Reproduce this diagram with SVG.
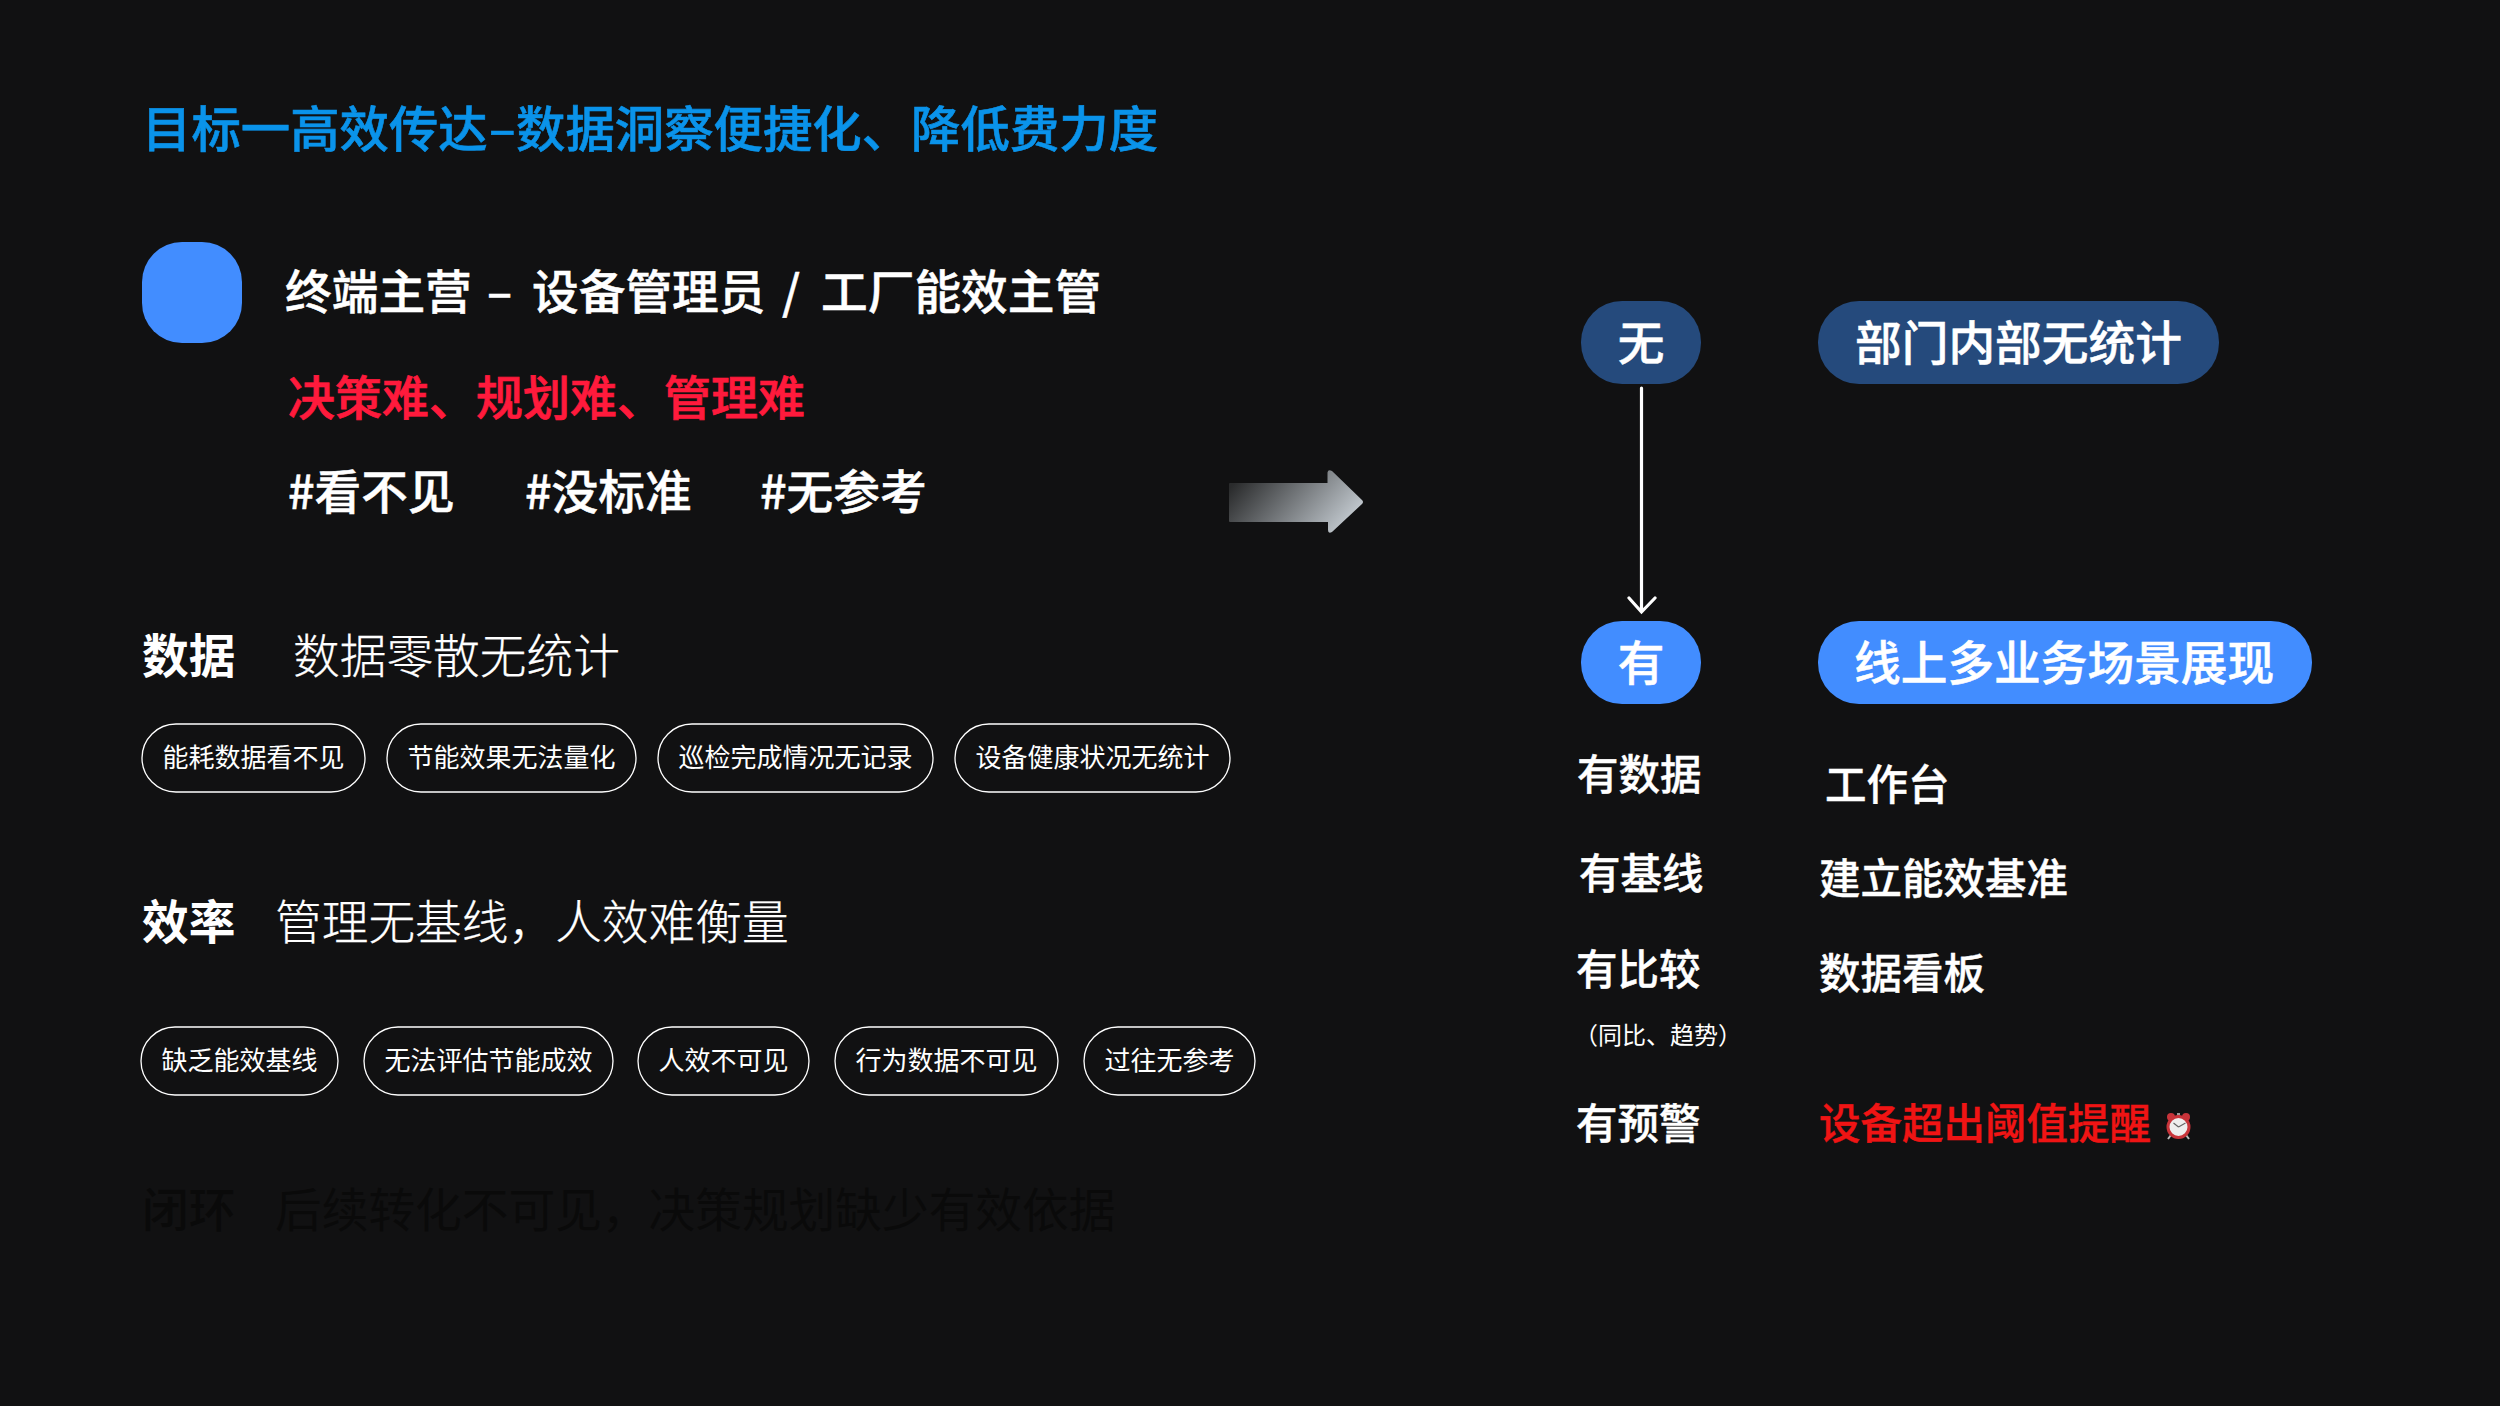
<svg xmlns="http://www.w3.org/2000/svg" width="2500" height="1406" viewBox="0 0 2500 1406">
<style>
text{font-family:"Noto Sans CJK SC","Noto Sans",sans-serif;fill:#fff}
.m{font-weight:500}.b{font-weight:700}.r{font-weight:400}.l{font-weight:300}
.s47{font-size:46.700px}.s42{font-size:41.500px;font-weight:500;stroke:#fff;stroke-width:.4px}
.w{stroke:#fff;stroke-width:.5px}
.t{stroke:#fff;stroke-width:.25px}
.pill{fill:none;stroke:#fff;stroke-width:1.300}
.pt{font-size:26px;text-anchor:middle}
.c{text-anchor:middle}
</style>
<defs>
<linearGradient id="ag" x1="0" x2="1" y1="0.300" y2="0.700"><stop offset="0" stop-color="#2a2b2c"/><stop offset="1" stop-color="#c8cfd5"/></linearGradient>
</defs>
<rect width="2500" height="1406" fill="#111112"/>
<g id="title"><text x="142" y="147" font-size="49.400" class="m" style="fill:#0a93ea;stroke:#0a93ea;stroke-width:.6px">目标一高效传达<tspan x="489">–</tspan><tspan x="516">数据洞察便捷化、降低费力度</tspan></text></g>
<g id="persona"><rect x="142" y="242" width="100" height="101" rx="40" fill="#428dff"/>
<text x="285" y="309" class="s47 m w">终端主营<tspan x="487">–</tspan><tspan x="532">设备管理员</tspan><tspan x="782">/</tspan><tspan x="821">工厂能效主管</tspan></text>
<text x="288" y="415" font-size="47" class="m" style="fill:#ff1a3c;stroke:#ff1a3c;stroke-width:.7px">决策难、规划难、管理难</text>
<text x="288" y="509" class="s47 m w">#看不见</text><text x="525" y="509" class="s47 m w">#没标准</text><text x="760" y="509" class="s47 m w">#无参考</text></g>
<g id="data-row"><text x="142" y="673" class="s47 b">数据</text><text x="293" y="673" class="s47 l t">数据零散无统计</text></g>
<g id="data-pills">
<rect class="pill" x="142" y="724" width="223" height="68" rx="34"/><text class="pt" x="253.500" y="767">能耗数据看不见</text>
<rect class="pill" x="387" y="724" width="249" height="68" rx="34"/><text class="pt" x="511.500" y="767">节能效果无法量化</text>
<rect class="pill" x="658" y="724" width="275" height="68" rx="34"/><text class="pt" x="795.500" y="767">巡检完成情况无记录</text>
<rect class="pill" x="955" y="724" width="275" height="68" rx="34"/><text class="pt" x="1092.500" y="767">设备健康状况无统计</text>
</g>
<g id="efficiency-row"><text x="142" y="939" class="s47 b">效率</text><text x="275" y="939" class="s47 l t">管理无基线，人效难衡量</text></g>
<g id="efficiency-pills">
<rect class="pill" x="141" y="1027" width="197" height="68" rx="34"/><text class="pt" x="239.500" y="1070">缺乏能效基线</text>
<rect class="pill" x="364" y="1027" width="249" height="68" rx="34"/><text class="pt" x="488.500" y="1070">无法评估节能成效</text>
<rect class="pill" x="638" y="1027" width="171" height="68" rx="34"/><text class="pt" x="723.500" y="1070">人效不可见</text>
<rect class="pill" x="835" y="1027" width="223" height="68" rx="34"/><text class="pt" x="946.500" y="1070">行为数据不可见</text>
<rect class="pill" x="1084" y="1027" width="171" height="68" rx="34"/><text class="pt" x="1169.500" y="1070">过往无参考</text>
</g>
<g id="loop-row"><text x="142" y="1227" class="s47 m" style="fill:#0a0a0a">闭环</text><text x="275" y="1227" class="s47 r" style="fill:#0a0a0a">后续转化不可见，决策规划缺少有效依据</text></g>
<g id="big-arrow"><path d="M1230 483H1327.500V472.500Q1328 469 1332 471L1362 500Q1364 502 1362 504L1332 532Q1328 534 1328 530V522H1230Q1229 522 1229 521V484Q1229 483 1230 483Z" fill="url(#ag)"/></g>
<g id="connectors"><path d="M1641.500 388V611M1629 598L1641.500 612L1655 598" fill="none" stroke="#fff" stroke-width="3.200" stroke-linecap="round"/></g>
<g id="node-none"><rect x="1581" y="301" width="120" height="83" rx="41" fill="#254a7c"/><text class="s47 m c w" x="1641" y="360">无</text></g>
<g id="node-none-label"><rect x="1818" y="301" width="401" height="83" rx="41" fill="#254a7c"/><text class="s47 m w" x="1855" y="360">部门内部无统计</text></g>
<g id="node-have"><rect x="1581" y="621" width="120" height="83" rx="41" fill="#428dff"/><text class="s47 m c w" x="1641" y="680">有</text></g>
<g id="node-have-label"><rect x="1818" y="621" width="494" height="83" rx="41" fill="#428dff"/><text class="s47 m w" x="1854" y="680">线上多业务场景展现</text></g>
<g id="list">
<text class="s42" x="1577" y="790">有数据</text><text class="s42" x="1825" y="800">工作台</text>
<text class="s42" x="1579" y="889">有基线</text><text class="s42" x="1819" y="894">建立能效基准</text>
<text class="s42" x="1576" y="985">有比较</text><text class="s42" x="1819" y="989">数据看板</text>
<text x="1574" y="1044" font-size="24" class="r">（同比、趋势）</text>
<text class="s42" x="1576" y="1139">有预警</text><text class="s42" x="1819" y="1139" style="fill:#f01414;stroke:#f01414">设备超出阈值提醒</text>
<g id="clock"><circle cx="2171" cy="1117" r="4" fill="#c8343a"/><circle cx="2186" cy="1117" r="4" fill="#c8343a"/><rect x="2177" y="1113" width="3" height="3" fill="#999"/><path d="M2171 1135l-3 4M2186 1135l3 4" stroke="#bbb" stroke-width="2"/><circle cx="2178.500" cy="1127" r="10.500" fill="#eee" stroke="#c8343a" stroke-width="3"/><path d="M2178.500 1127l-5-4M2178.500 1127l7-4" stroke="#666" stroke-width="1.200"/></g>
</g>
</svg>
